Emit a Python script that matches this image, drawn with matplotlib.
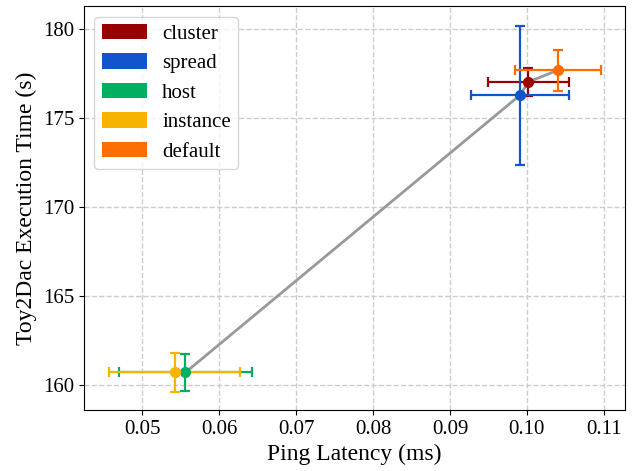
import matplotlib
matplotlib.use("Agg")
import matplotlib.pyplot as plt
from matplotlib.patches import Patch

plt.rcParams['font.family'] = ['Liberation Serif', 'DejaVu Serif']

# placement strategies: mean ping latency (ms) and execution time (s) with std errors
names = ['cluster', 'spread', 'host', 'instance', 'default']
colors = ['#990000', '#1155cc', '#00b060', '#f5b400', '#ff6d00']
latency = [0.1002, 0.0991, 0.0556, 0.0542, 0.1040]
latency_err = [0.0053, 0.0064, 0.0086, 0.0085, 0.0056]
exec_time = [177.05, 176.3, 160.7, 160.72, 177.7]
exec_err = [0.8, 3.9, 1.05, 1.1, 1.15]

fig, ax = plt.subplots(figsize=(6.34, 4.71), dpi=100)
fig.subplots_adjust(left=0.1325, right=0.986, bottom=0.1295, top=0.987)

# gray line joining the points in order of latency
order = sorted(range(len(names)), key=lambda i: latency[i])
ax.plot([latency[i] for i in order], [exec_time[i] for i in order],
        color='#999999', lw=2, zorder=2)

for i, name in enumerate(names):
    ax.errorbar(latency[i], exec_time[i], xerr=latency_err[i], yerr=exec_err[i],
                fmt='o', color=colors[i], ms=7, elinewidth=1.6, capsize=3.6,
                capthick=1.6, zorder=3)

handles = [Patch(facecolor=c, label=n) for n, c in zip(names, colors)]
ax.legend(handles=handles, loc='upper left', fontsize=15, handlelength=2.15,
          handleheight=0.78, borderpad=0.35, labelspacing=0.45, handletextpad=0.75)

ax.set_xlim(0.04242, 0.11277)
ax.set_ylim(158.59, 181.31)
ax.set_xticks([0.05, 0.06, 0.07, 0.08, 0.09, 0.10, 0.11])
ax.set_yticks([160, 165, 170, 175, 180])
ax.tick_params(labelsize=15)
ax.set_xlabel('Ping Latency (ms)', fontsize=17)
ax.set_ylabel('Toy2Dac Execution Time (s)', fontsize=17)
ax.grid(True, ls='--', color='#cccccc', lw=1)
ax.set_axisbelow(True)

plt.savefig('out.png')
